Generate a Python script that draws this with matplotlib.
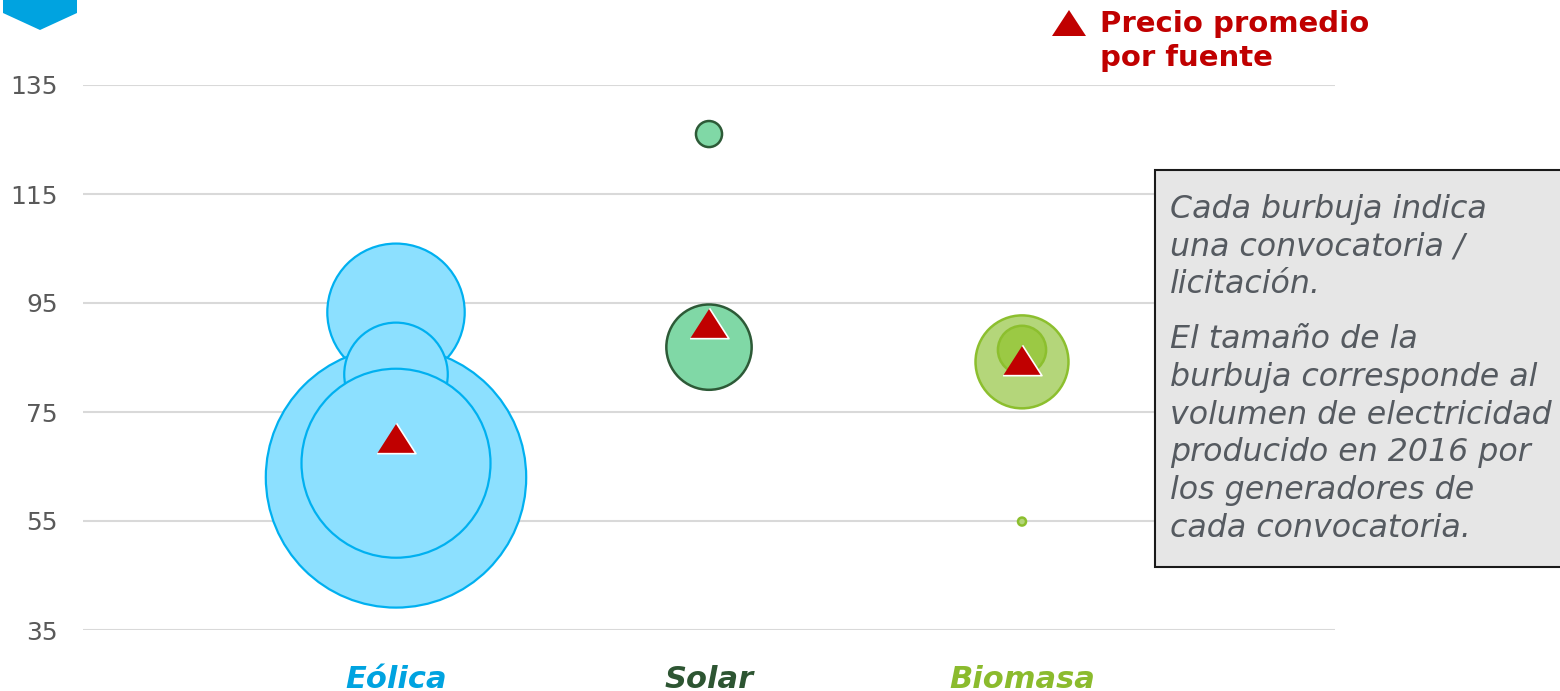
import matplotlib.pyplot as plt
from matplotlib.patches import Polygon, Rectangle

# categories and bubble data (precio, volumen)
fuentes = ["Eólica", "Solar", "Biomasa"]
eolica_precio = [93.3, 63.0, 81.9, 65.6]
eolica_volumen = [47.2, 169.5, 26.8, 89.3]
solar_precio = [126.0, 86.9]
solar_volumen = [1.7, 18.2]
biomasa_precio = [84.2, 86.4, 54.9]
biomasa_volumen = [21.6, 5.8, 0.16]
precio_promedio = [70.2, 91.4, 84.6]
y_ticks = [35, 55, 75, 95, 115, 135]

SIZE_K = 207.36  # volumen -> marker area (pt^2)

fig = plt.figure(figsize=(15.6, 6.91), dpi=100)
ax = fig.add_axes([83 / 1560, 1 - 630 / 691, (1335 - 83) / 1560, 545 / 691])

# Eólica
ax.scatter([1] * len(eolica_precio), eolica_precio,
           s=[v * SIZE_K for v in eolica_volumen],
           facecolor="#8CE0FF", edgecolor="#00B0F0", linewidth=1.6,
           zorder=3, clip_on=False)
# Solar
ax.scatter([2] * len(solar_precio), solar_precio,
           s=[v * SIZE_K for v in solar_volumen],
           facecolor="#80D8A6", edgecolor="#2D5A37", linewidth=1.8,
           zorder=3, clip_on=False)
# Biomasa
ax.scatter([3] * len(biomasa_precio), biomasa_precio,
           s=[v * SIZE_K for v in biomasa_volumen],
           facecolor=["#B4D67A", "#9BC944", "#B4D67A"], edgecolor="#8CBF2E",
           linewidth=1.8, zorder=3, clip_on=False)

# average price triangles
tri = [(-1, -0.78), (1, -0.78), (0, 0.78)]
ax.scatter([1, 2, 3], precio_promedio, marker=tri, s=28 ** 2,
           facecolor="#C00000", edgecolor="white", linewidth=1.2, zorder=5)

ax.set_xlim(0, 4)
ax.set_ylim(35, 135)
ax.set_yticks(y_ticks)
ax.grid(axis="y", color="#D9D9D9", linewidth=1.5)
ax.set_axisbelow(True)
for s in ax.spines.values():
    s.set_visible(False)
ax.tick_params(axis="y", length=0, pad=18, labelsize=18, labelcolor="#595959")
ax.set_xticks([1, 2, 3])
ax.set_xticklabels(fuentes, fontsize=22, fontweight="bold", style="italic")
ax.tick_params(axis="x", length=0, pad=25)
for lbl, c in zip(ax.get_xticklabels(), ["#00A3E0", "#2D5532", "#8BBB2D"]):
    lbl.set_color(c)

# legend
legend_tri = [(1052, 36), (1086, 36), (1069, 10)]
fig.patches.append(Polygon([(x / 1560, 1 - y / 691) for x, y in legend_tri],
                           closed=True, transform=fig.transFigure,
                           facecolor="#C00000", edgecolor="none"))
fig.text(1100 / 1560, 1 - 41 / 691, "Precio promedio\npor fuente",
         fontsize=21, fontweight="bold", color="#C00000",
         ha="left", va="center", linespacing=1.28)

# note box
fig.patches.append(Rectangle((1155 / 1560, 1 - 567 / 691), 420 / 1560, 397 / 691,
                             transform=fig.transFigure, facecolor="#E6E6E6",
                             edgecolor="#1A1A1A", linewidth=1.5, zorder=10))
fig.text(1170 / 1560, 1 - 247 / 691,
         "Cada burbuja indica\nuna convocatoria /\nlicitación.",
         fontsize=22.8, style="italic", color="#555A60", ha="left", va="center",
         linespacing=1.29, zorder=11)
fig.text(1170 / 1560, 1 - 434 / 691,
         "El tamaño de la\nburbuja corresponde al\nvolumen de electricidad\n"
         "producido en 2016 por\nlos generadores de\ncada convocatoria.",
         fontsize=22.8, style="italic", color="#555A60", ha="left", va="center",
         linespacing=1.29, zorder=11)

# corner marker
corner = [(3, 0), (77, 0), (77, 13), (40, 30), (3, 13)]
fig.patches.append(Polygon([(x / 1560, 1 - y / 691) for x, y in corner],
                           closed=True, transform=fig.transFigure,
                           facecolor="#00A3E0", edgecolor="none"))

fig.savefig("out.png", dpi=100)
